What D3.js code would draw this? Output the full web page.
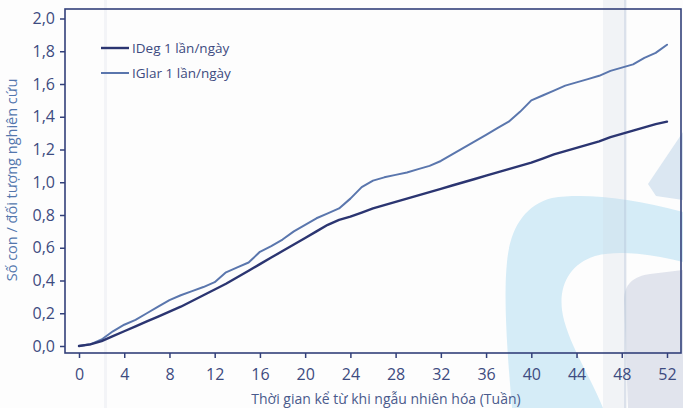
<!DOCTYPE html>
<html>
<head>
<meta charset="utf-8">
<script src="https://cdn.jsdelivr.net/npm/d3@7"></script>
<style>
  html, body { margin: 0; padding: 0; background: #fdfdfd; }
  svg { display: block; }
  text { font-family: "Open Sans", "Noto Sans", sans-serif; }
</style>
</head>
<body>
<svg id="chart" width="683" height="408"></svg>
<script>
// Weeks since randomisation
const weeks = d3.range(0, 53);

// Mean cumulative number of events per subject, one value per week
const iDeg = [
  0.00, 0.01, 0.03, 0.06, 0.09, 0.12, 0.15, 0.18, 0.21, 0.24,
  0.275, 0.31, 0.345, 0.38, 0.42, 0.46, 0.50, 0.54, 0.58, 0.62,
  0.66, 0.70, 0.74, 0.77, 0.79, 0.815, 0.84, 0.86, 0.88, 0.90,
  0.92, 0.94, 0.96, 0.98, 1.00, 1.02, 1.04, 1.06, 1.08, 1.10,
  1.12, 1.145, 1.17, 1.19, 1.21, 1.23, 1.25, 1.275, 1.295, 1.315,
  1.335, 1.355, 1.37
];
const iGlar = [
  0.00, 0.01, 0.04, 0.09, 0.13, 0.16, 0.20, 0.24, 0.28, 0.31,
  0.335, 0.36, 0.39, 0.45, 0.48, 0.51, 0.575, 0.61, 0.65, 0.70,
  0.74, 0.78, 0.81, 0.84, 0.90, 0.97, 1.01, 1.03, 1.045, 1.06,
  1.08, 1.10, 1.13, 1.17, 1.21, 1.25, 1.29, 1.33, 1.37, 1.43,
  1.50, 1.53, 1.56, 1.59, 1.61, 1.63, 1.65, 1.68, 1.70, 1.72,
  1.76, 1.79, 1.84
];

const xTicks = [0, 4, 8, 12, 16, 20, 24, 28, 32, 36, 40, 44, 48, 52];
const yTicks = [0, 0.2, 0.4, 0.6, 0.8, 1.0, 1.2, 1.4, 1.6, 1.8, 2.0];

const seriesNames = ["IDeg 1 lần/ngày", "IGlar 1 lần/ngày"];
const seriesColors = ["#2b3571", "#5a76ad"];
const seriesWidths = [2.4, 2.0];

const yTitle = "Số con / đối tượng nghiên cứu";
const xTitle = "Thời gian kể từ khi ngẫu nhiên hóa (Tuần)";

const svg = d3.select("#chart");
const frame = { left: 65, top: 9, right: 681, bottom: 353 };

const x = d3.scaleLinear().domain([0, 52]).range([79, 667]);
const y = d3.scaleLinear().domain([0, 2]).range([346, 18.5]);

// Pale printed artwork behind the chart
const deco = svg.append("g").attr("class", "backdrop");
deco.append("rect").attr("x", 104).attr("y", 0).attr("width", 3).attr("height", 408)
  .attr("fill", "#f3f4f7");
deco.append("path")
  .attr("d", "M628,408 L624,300 C624,284 634,276 650,274 L683,270 L683,408 Z")
  .attr("fill", "#e1e4ed");
deco.append("path")
  .attr("d", "M648,184 L683,132 L683,200 L656,196 Z")
  .attr("fill", "#dbe7f2");
deco.append("path")
  .attr("d", "M512,408 C508,360 503,300 507,262 C510,228 525,205 552,198 " +
             "C585,193 630,198 683,212 L683,262 C650,254 620,250 595,256 " +
             "C570,264 559,285 562,310 C566,340 590,375 603,408 Z")
  .attr("fill", "#d5ecf7");
deco.append("rect").attr("x", 603).attr("y", 0).attr("width", 24).attr("height", 408)
  .attr("fill", "#cfd6e4").attr("opacity", 0.25);
deco.append("rect").attr("x", 624).attr("y", 0).attr("width", 2).attr("height", 408)
  .attr("fill", "#aab8d2").attr("opacity", 0.3);

// Plot frame
svg.append("rect")
  .attr("x", frame.left).attr("y", frame.top)
  .attr("width", frame.right - frame.left).attr("height", frame.bottom - frame.top)
  .attr("fill", "none").attr("stroke", "#33407a").attr("stroke-width", 1.6);

const axisColor = "#33407a";
const labelColor = "#3d4b80";

// Y axis
const yAxis = svg.append("g")
  .attr("transform", `translate(${frame.left},0)`)
  .call(d3.axisLeft(y).tickValues(yTicks).tickSize(5).tickPadding(5)
    .tickFormat(d => d.toFixed(1).replace(".", ",")));
yAxis.select(".domain").remove();
yAxis.selectAll("line").attr("stroke", axisColor).attr("stroke-width", 1.5);
yAxis.selectAll("text").attr("fill", labelColor)
  .style("font-size", "16px").style("font-family", "'Open Sans', sans-serif");

// X axis
const xAxis = svg.append("g")
  .attr("transform", `translate(0,${frame.bottom})`)
  .call(d3.axisBottom(x).tickValues(xTicks).tickSize(5).tickPadding(11));
xAxis.select(".domain").remove();
xAxis.selectAll("line").attr("stroke", axisColor).attr("stroke-width", 1.5);
xAxis.selectAll("text").attr("fill", labelColor)
  .style("font-size", "16px").style("font-family", "'Open Sans', sans-serif");

// Axis titles
svg.append("text")
  .attr("transform", "translate(17,180) rotate(-90)")
  .attr("text-anchor", "middle")
  .attr("fill", "#5376ad")
  .style("font-size", "14.5px")
  .text(yTitle);

svg.append("text")
  .attr("x", 386).attr("y", 404)
  .attr("text-anchor", "middle")
  .attr("fill", "#4a5a8c")
  .style("font-size", "14px")
  .text(xTitle);

// Series lines (IGlar first so IDeg sits on top)
const line = d3.line()
  .x((d, i) => x(weeks[i]))
  .y(d => y(d));

[[iGlar, 1], [iDeg, 0]].forEach(([vals, idx]) => {
  svg.append("path")
    .datum(vals)
    .attr("d", line)
    .attr("fill", "none")
    .attr("stroke", seriesColors[idx])
    .attr("stroke-width", seriesWidths[idx])
    .attr("stroke-linejoin", "round")
    .attr("stroke-linecap", "round");
});

// Legend
const legend = svg.append("g").attr("transform", "translate(101,48)");
seriesNames.forEach((name, i) => {
  const g = legend.append("g").attr("transform", `translate(0,${i * 25})`);
  g.append("line")
    .attr("x1", 0).attr("x2", 28).attr("y1", 0).attr("y2", 0)
    .attr("stroke", seriesColors[i]).attr("stroke-width", seriesWidths[i]);
  g.append("text")
    .attr("x", 31).attr("y", 0).attr("dy", "0.36em")
    .attr("fill", labelColor)
    .style("font-size", "13.5px")
    .text(name);
});
</script>
</body>
</html>
